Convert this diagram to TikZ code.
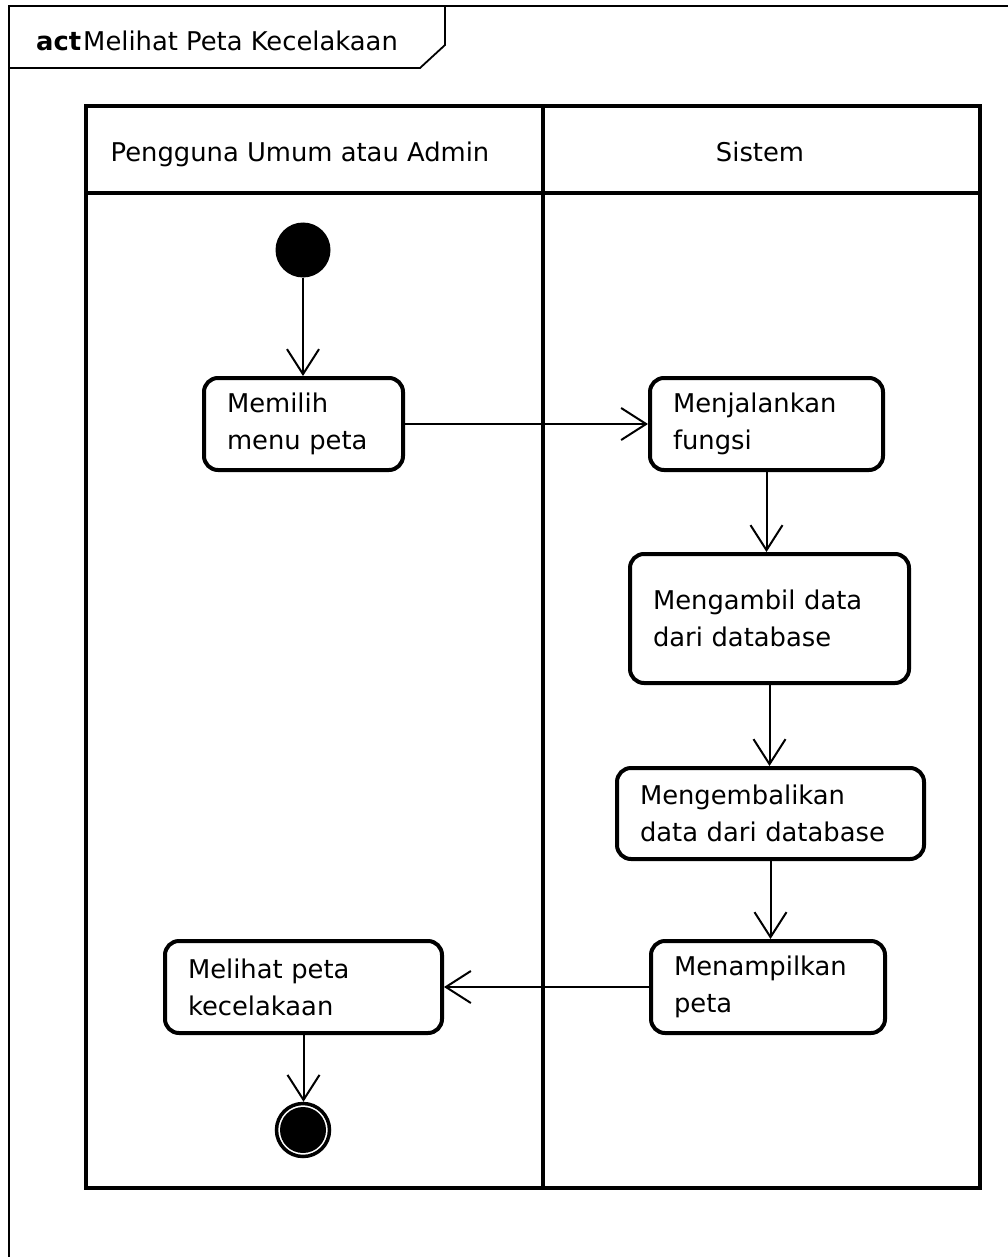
\documentclass[tikz,border=0pt]{standalone}
\usepackage{fontspec}
\setmainfont{DejaVu Sans}
\usetikzlibrary{arrows.meta,calc}
\begin{document}
\begin{tikzpicture}[x=1pt,y=-1pt,
  every node/.style={font=\fontsize{25.8}{37}\selectfont},
  actbox/.style={draw, line width=4pt, rounded corners=14pt, align=left, inner xsep=23pt, inner ysep=0pt},
  flow/.style={line width=2pt, -{Straight Barb[length=25pt,width=32pt,line width=2pt]}},
  lane/.style={line width=4.5pt},
  frameline/.style={line width=1.8pt},
]
\useasboundingbox (0,0) rectangle (1008,1257);
\clip (0,0) rectangle (1008,1257);
% frame
\draw[frameline] (1020,6) -- (9,6) -- (9,1270);
\draw[frameline] (9,68) -- (420,68) -- (445,45) -- (445,6);
\node[anchor=base west, inner sep=0] (title) at (36,51) {{\bfseries act}\hspace{2pt}Melihat Peta Kecelakaan};
% lanes
\draw[lane] (86,106) rectangle (980,1188);
\draw[lane] (86,193) -- (980,193);
\draw[lane] (543,106) -- (543,1188);
\node[anchor=base] (l1) at (300,162) {Pengguna Umum atau Admin};
\node[anchor=base] (l2) at (760,162) {Sistem};
% nodes
\node[circle, fill=black, minimum size=55pt, inner sep=0] (start) at (303,250) {};
\node[actbox, minimum width=199pt, minimum height=92pt, text width=153pt] (a1) at (303.5,424) {Memilih\\menu peta};
\node[actbox, minimum width=233pt, minimum height=92pt, text width=187pt] (a2) at (766.5,424) {Menjalankan\\fungsi};
\node[actbox, minimum width=279pt, minimum height=129pt, text width=233pt] (a3) at (769.5,618.5) {Mengambil data\\dari database};
\node[actbox, minimum width=307pt, minimum height=91pt, text width=261pt] (a4) at (770.5,813.5) {Mengembalikan\\data dari database};
\node[actbox, minimum width=234pt, minimum height=92pt, text width=188pt] (a5) at (768,987) {Menampilkan\\peta};
\node[actbox, minimum width=277pt, minimum height=92pt, text width=231pt] (a6) at (303.5,987) {Melihat peta\\kecelakaan};
\node[circle, draw, line width=3.5pt, minimum size=53pt, inner sep=0,
  path picture={\fill[black] (path picture bounding box.center) circle (23pt);}] (end) at (303,1130) {};
% flows
\draw[flow] (start.south) -- (start.south |- a1.north);
\draw[flow] (a1.east) -- (a2.west);
\draw[flow] (a2.south) -- (a2.south |- a3.north);
\draw[flow] (a3.south) -- (a3.south |- a4.north);
\draw[flow] (a4.south) -- (a4.south |- a5.north);
\draw[flow] (a5.west) -- (a6.east);
\draw[flow] (a6.south) -- (a6.south |- end.north);
\end{tikzpicture}
\end{document}
